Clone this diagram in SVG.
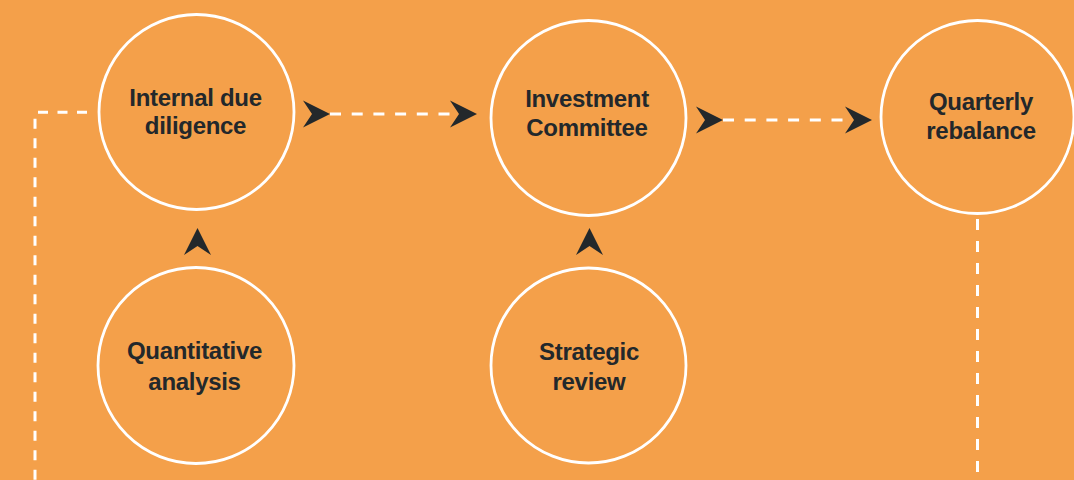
<svg xmlns="http://www.w3.org/2000/svg" xmlns:xlink="http://www.w3.org/1999/xlink" width="1074" height="480" viewBox="0 0 1074 480">
  <style>
    .bg { fill: #F4A04A; }
    .node circle { fill: none; stroke: #FFFFFF; stroke-width: 2.8; }
    .node text { font-family: "Liberation Sans", Arial, Helvetica, sans-serif; font-weight: 700; font-size: 24px; letter-spacing: -0.3px; fill: #23282B; text-anchor: middle; }
    .dash { fill: none; stroke: #FFFFFF; stroke-width: 3; }
    .head { fill: #23282B; }
  </style>
  <defs>
    <path id="ah" d="M0,0 L-27,-13.5 L-18,0 L-27,13.5 Z"/>
  </defs>
  <rect class="bg" x="0" y="0" width="1074" height="480"/>

  <g id="connectors">
    <!-- Internal due diligence -> Investment Committee -->
    <path class="dash" d="M330,114 H450" stroke-dasharray="11 10.7"/>
    <use class="head" xlink:href="#ah" href="#ah" x="330" y="114"/>
    <use class="head" xlink:href="#ah" href="#ah" x="477" y="114"/>
    <!-- Investment Committee -> Quarterly rebalance -->
    <path class="dash" d="M723,120 H846" stroke-dasharray="11 10.7"/>
    <use class="head" xlink:href="#ah" href="#ah" x="723" y="120"/>
    <use class="head" xlink:href="#ah" href="#ah" x="872" y="120"/>
    <!-- Quantitative analysis -> Internal due diligence -->
    <use class="head" xlink:href="#ah" href="#ah" transform="translate(197.5,228) rotate(-90)"/>
    <!-- Strategic review -> Investment Committee -->
    <use class="head" xlink:href="#ah" href="#ah" transform="translate(589.5,228) rotate(-90)"/>
    <!-- Feedback loop left -->
    <path class="dash" d="M87,112.3 H35 V480" stroke-dasharray="10 9.5" stroke-width="2.8"/>
    <!-- Feedback loop right -->
    <path class="dash" d="M977.5,219 V480" stroke-dasharray="11 11" stroke-width="2.8"/>
  </g>

  <g id="node-internal-due-diligence" class="node">
    <circle cx="196.5" cy="112" r="97.5"/>
    <text x="195.5" y="105.5">Internal due</text>
    <text x="195.5" y="134">diligence</text>
  </g>

  <g id="node-investment-committee" class="node">
    <circle cx="588.5" cy="118" r="97.5"/>
    <text x="587" y="106.5">Investment</text>
    <text x="587" y="135.5">Committee</text>
  </g>

  <g id="node-quarterly-rebalance" class="node">
    <circle cx="977.5" cy="117" r="96.5"/>
    <text x="981" y="109.5">Quarterly</text>
    <text x="981" y="139">rebalance</text>
  </g>

  <g id="node-quantitative-analysis" class="node">
    <circle cx="196" cy="365.5" r="98"/>
    <text x="194.5" y="358.5">Quantitative</text>
    <text x="194.5" y="389.5">analysis</text>
  </g>

  <g id="node-strategic-review" class="node">
    <circle cx="588.5" cy="365.5" r="97.5"/>
    <text x="589" y="360">Strategic</text>
    <text x="589" y="390">review</text>
  </g>
</svg>
